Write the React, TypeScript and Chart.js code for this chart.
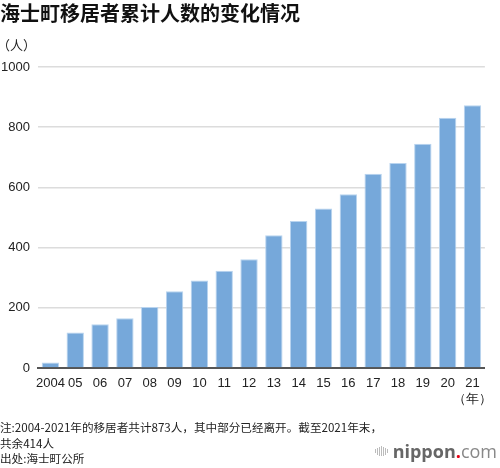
import React, { useEffect, useRef } from "react";
import { Chart, registerables } from "chart.js";

Chart.register(...registerables);

const categories: (string | string[])[] = [
  "2004", "05", "06", "07", "08", "09", "10", "11", "12",
  "13", "14", "15", "16", "17", "18", "19", "20", ["21", "（年）"],
];
const residents: number[] = [
  18, 118, 145, 165, 203, 255, 291, 323, 361,
  441, 488, 530, 577, 645, 681, 745, 831, 873,
];
const yTicks: number[] = [0, 200, 400, 600, 800, 1000];

const title = "海士町移居者累计人数的变化情况";
const unitLabel = "（人）";
const noteLines = [
  "注:2004-2021年的移居者共计873人，其中部分已经离开。截至2021年末，",
  "共余414人",
  "出处:海士町公所",
];

const numFont = "'Liberation Sans', Arial, Helvetica, sans-serif";
const cjkFont = "'Noto Sans CJK SC', 'Noto Sans', sans-serif";

export default function App() {
  const canvasRef = useRef<HTMLCanvasElement | null>(null);

  useEffect(() => {
    document.body.style.margin = "0";
    const canvas = canvasRef.current;
    if (!canvas) return;
    const chart = new Chart(canvas, {
      type: "bar",
      data: {
        labels: categories,
        datasets: [
          {
            data: residents,
            backgroundColor: "#76a8da",
            borderColor: "#b9d4ef",
            borderWidth: 1,
            barPercentage: 0.7,
            categoryPercentage: 1,
          },
        ],
      },
      options: {
        animation: false,
        responsive: false,
        maintainAspectRatio: false,
        devicePixelRatio: 1,
        layout: { padding: { top: 67, right: 1, left: 0, bottom: 0 } },
        plugins: {
          legend: { display: false },
          tooltip: { enabled: false },
          title: { display: false },
        },
        scales: {
          x: {
            offset: true,
            grid: { display: false, drawTicks: false },
            border: { display: true, color: "#555", width: 2 },
            ticks: {
              autoSkip: false,
              maxRotation: 0,
              minRotation: 0,
              padding: 8,
              color: "#222",
              font: { family: numFont, size: 13 },
            },
            afterFit: (scale: any) => {
              scale.height = 100;
            },
          },
          y: {
            min: 0,
            max: 1000,
            afterBuildTicks: (scale: any) => {
              scale.ticks = yTicks.map((v) => ({ value: v }));
            },
            grid: { color: "#dcdcdc", lineWidth: 1.5, drawTicks: false },
            border: { display: false },
            ticks: {
              padding: 8,
              color: "#222",
              font: { family: numFont, size: 13 },
              callback: (v: any) => String(v),
            },
            afterFit: (scale: any) => {
              scale.width = 38;
            },
          },
        },
      },
    });
    return () => chart.destroy();
  }, []);

  const bars = [4, 7, 9, 10, 9, 7, 4];

  return (
    <div style={{ position: "relative", width: 500, height: 468, overflow: "hidden", background: "#fff" }}>
      <canvas
        ref={canvasRef}
        width={500}
        height={468}
        style={{ position: "absolute", left: 0, top: 0, width: 500, height: 468 }}
      />
      <div
        style={{
          position: "absolute",
          left: 0,
          top: 0,
          fontFamily: cjkFont,
          fontWeight: 700,
          fontSize: 20,
          lineHeight: "25px",
          color: "#111",
          whiteSpace: "nowrap",
        }}
      >
        {title}
      </div>
      <div
        style={{
          position: "absolute",
          left: -3,
          top: 36,
          fontFamily: cjkFont,
          fontSize: 13,
          lineHeight: "18px",
          color: "#222",
          whiteSpace: "nowrap",
        }}
      >
        {unitLabel}
      </div>
      <div
        style={{
          position: "absolute",
          left: 0,
          top: 420,
          fontFamily: cjkFont,
          fontSize: 11.6,
          lineHeight: "15.5px",
          color: "#222",
          whiteSpace: "nowrap",
        }}
      >
        {noteLines.map((l, i) => (
          <div key={i}>{l}</div>
        ))}
      </div>
      <div
        style={{
          position: "absolute",
          right: 3,
          top: 440,
          display: "flex",
          alignItems: "center",
          fontFamily: "'Open Sans', 'Liberation Sans', sans-serif",
          fontSize: 18,
          lineHeight: "22px",
          color: "#777",
          whiteSpace: "nowrap",
        }}
      >
        <div style={{ display: "flex", alignItems: "center", marginRight: 5, gap: 1 }}>
          {bars.map((h, i) => (
            <div key={i} style={{ width: 1, height: h, background: "#bbb" }} />
          ))}
        </div>
        <span style={{ fontWeight: 700, color: "#666" }}>nippon</span>
        <span style={{ fontWeight: 700, color: "#e60012" }}>.</span>
        <span style={{ color: "#888" }}>com</span>
      </div>
    </div>
  );
}
